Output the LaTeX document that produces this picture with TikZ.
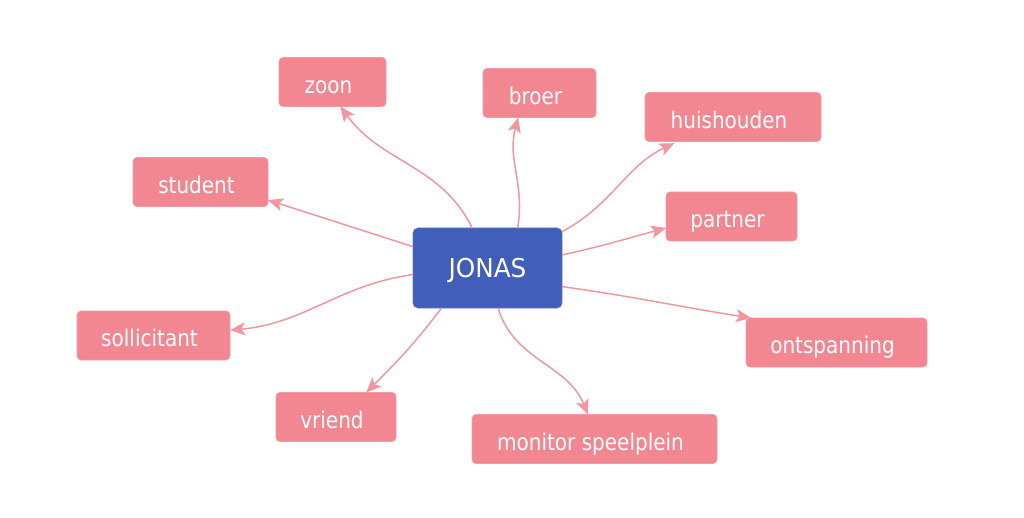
\documentclass[tikz,border=0pt]{standalone}
\usepackage{fontspec}
\setmainfont{DejaVu Sans}
\newfontfamily\leaffont[FakeStretch=0.87]{DejaVu Sans}
\newfontfamily\hubfont[FakeStretch=0.95]{DejaVu Sans}
\usetikzlibrary{arrows.meta}
\definecolor{pinkbox}{RGB}{242,135,145}
\definecolor{bluebox}{RGB}{64,94,186}
\definecolor{pinkline}{RGB}{244,150,159}
\tikzset{
  leaf/.style={draw=pinkbox!85!white, line width=0.6pt, fill=pinkbox, rounded corners=4pt, text=white,
    minimum height=49pt, inner sep=0pt, outer sep=0pt, text height=22.5pt, text depth=0pt,
    font=\leaffont\fontsize{23}{26}\selectfont},
  hub/.style={draw=bluebox!85!white, line width=0.6pt, fill=bluebox, rounded corners=5pt, text=white,
    minimum width=149pt, minimum height=80pt, inner sep=0pt, outer sep=0pt, text height=19pt, text depth=0pt,
    font=\hubfont\fontsize{26}{30}\selectfont},
  link/.style={draw=pinkline, line width=1.5pt, -{Stealth[length=15pt,width=13pt,inset=3.5pt]}}
}
\newcommand{\lf}[1]{\hspace*{-8pt}#1}
\begin{document}
\begin{tikzpicture}[x=1pt,y=1pt]
\useasboundingbox[fill=white] (0,0) rectangle (1024,517);
\node[hub] (c) at (487.5,249) {JONAS};
\node[leaf, minimum width=107pt] (zoon) at (332.5,435) {\lf{zoon}};
\node[leaf, minimum width=113pt] (broer) at (539.5,424) {\lf{broer}};
\node[leaf, minimum width=176pt] (huis) at (733,400) {\lf{huishouden}};
\node[leaf, minimum width=135pt] (student) at (200.5,335) {\lf{student}};
\node[leaf, minimum width=131pt] (partner) at (731.5,300.5) {\lf{partner}};
\node[leaf, minimum width=153pt] (soll) at (153.5,181.5) {\lf{sollicitant}};
\node[leaf, minimum width=181pt] (ont) at (836.5,174.5) {\lf{ontspanning}};
\node[leaf, minimum width=120pt] (vriend) at (336,100) {\lf{vriend}};
\node[leaf, minimum width=245pt] (mon) at (594.5,78) {\lf{monitor speelplein}};

\draw[link] (c.111) to[out=116,in=-54] (zoon.-72);
\draw[link] (c.53) to[out=80,in=-105] (broer.-131);
\draw[link, shorten >=4pt] (c.26) to[out=28,in=-155] (huis.-156);
\draw[link] (c.10) to[out=12,in=-165] (partner.-170);
\draw[link] (c.-14) to[out=-8,in=171] (ont.164);
\draw[link] (c.164) -- (student.-15);
\draw[link] (c.185) to[out=188,in=5] (soll.4);
\draw[link] (c.221) to[out=233,in=45] (vriend.39);
\draw[link] (c.-75) to[out=-74,in=112] (mon.105);
\end{tikzpicture}
\end{document}
